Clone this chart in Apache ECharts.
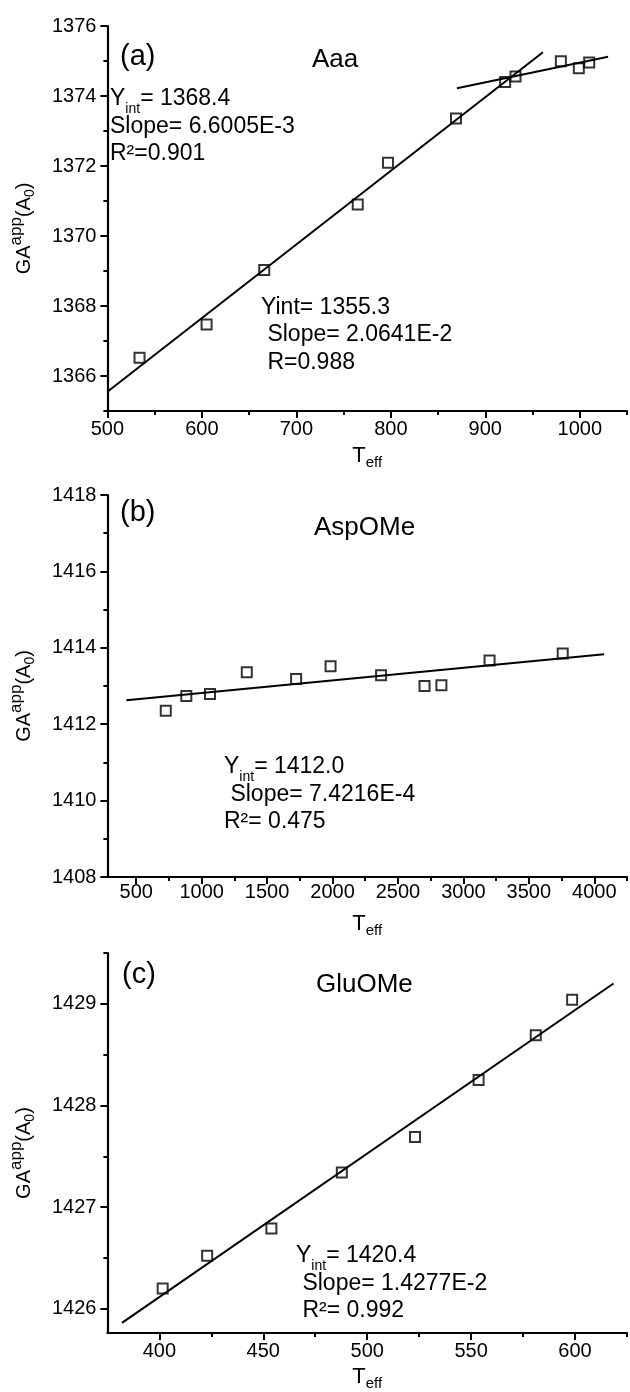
<!DOCTYPE html>
<html>
<head>
<meta charset="utf-8">
<script src="https://cdn.jsdelivr.net/npm/echarts@6/dist/echarts.min.js"></script>
<style>
  html, body { margin: 0; padding: 0; background: #fff; }
  #chart { width: 630px; height: 1392px; }
</style>
</head>
<body>
<div id="chart"></div>
<script>
// (a) Aaa
var aTeff = [534, 605, 666, 765, 797, 869, 921, 932, 980, 999, 1010];
var aGA = [1366.52, 1367.47, 1369.03, 1370.9, 1372.09, 1373.36, 1374.4, 1374.56, 1374.99, 1374.79, 1374.96];
var aFitLowT = [500, 961];
var aFitLowGA = [1365.55, 1375.25];
var aFitHighT = [870, 1030];
var aFitHighGA = [1374.22, 1375.12];
var aXMajor = [500, 600, 700, 800, 900, 1000];
var aXMinor = [550, 650, 750, 850, 950, 1050];
var aYMajor = [1366, 1368, 1370, 1372, 1374, 1376];
var aYMinor = [1365, 1367, 1369, 1371, 1373, 1375];

// (b) AspOMe
var bTeff = [726, 883, 1064, 1345, 1722, 1985, 2371, 2703, 2832, 3200, 3759];
var bGA = [1412.35, 1412.74, 1412.79, 1413.36, 1413.18, 1413.52, 1413.28, 1413.0, 1413.02, 1413.67, 1413.85];
var bFitT = [425, 4075];
var bFitGA = [1412.63, 1413.83];
var bXMajor = [500, 1000, 1500, 2000, 2500, 3000, 3500, 4000];
var bXMinor = [750, 1250, 1750, 2250, 2750, 3250, 3750, 4250];
var bYMajor = [1408, 1410, 1412, 1414, 1416, 1418];
var bYMinor = [1409, 1411, 1413, 1415, 1417];

// (c) GluOMe
var cTeff = [401.6, 423, 453.9, 487.8, 523, 553.6, 581.1, 598.6];
var cGA = [1426.2, 1426.52, 1426.79, 1427.34, 1427.69, 1428.25, 1428.69, 1429.04];
var cFitT = [382, 618.5];
var cFitGA = [1425.86, 1429.2];
var cXMajor = [400, 450, 500, 550, 600];
var cXMinor = [425, 475, 525, 575, 625];
var cYMajor = [1426, 1427, 1428, 1429];
var cYMinor = [1426.5, 1427.5, 1428.5, 1429.5];

var FONT = 'Liberation Sans, Arial, sans-serif';

var chart = echarts.init(document.getElementById('chart'));

function pairs(xs, ys) {
    var out = [];
    for (var i = 0; i < xs.length; i++) out.push([xs[i], ys[i]]);
    return out;
}
function plain(v) { return String(v); }

var grids = [], xAxes = [], yAxes = [], series = [];

function addPanel(p) {
    var g = grids.length;
    grids.push({ left: 103, right: 3, top: p.top, height: p.height, containLabel: false });

    var xMain = xAxes.length;
    xAxes.push({
        type: 'value', gridIndex: g, position: 'bottom', min: p.xMin, max: p.xMax,
        splitLine: { show: false },
        axisLine: { show: true, onZero: false, lineStyle: { color: '#000', width: 2.2 } },
        axisTick: { show: true, length: 7, lineStyle: { color: '#000', width: 2 }, customValues: p.xMajor },
        axisLabel: { customValues: p.xMajor, formatter: plain, color: '#000', fontSize: 20, fontFamily: FONT, margin: p.xLabelMargin },
        name: '{n|T}{s|eff}', nameLocation: 'middle', nameGap: p.xNameGap,
        nameTextStyle: {
            color: '#000', fontFamily: FONT,
            rich: {
                n: { fontSize: 22, lineHeight: 26, fontFamily: FONT, color: '#000' },
                s: { fontSize: 15, lineHeight: 26, fontFamily: FONT, color: '#000', padding: [14, 0, 0, 0] }
            }
        }
    });
    xAxes.push({
        type: 'value', gridIndex: g, position: 'bottom', min: p.xMin, max: p.xMax,
        splitLine: { show: false },
        axisLine: { show: false, onZero: false },
        axisLabel: { show: false },
        axisTick: { show: true, length: 4, lineStyle: { color: '#000', width: 2 }, customValues: p.xMinor }
    });

    var yMain = yAxes.length;
    yAxes.push({
        type: 'value', gridIndex: g, position: 'left', min: p.yMin, max: p.yMax,
        splitLine: { show: false },
        axisLine: { show: true, onZero: false, lineStyle: { color: '#000', width: 2.2 } },
        axisTick: { show: true, length: 7, lineStyle: { color: '#000', width: 2 }, customValues: p.yMajor },
        axisLabel: { customValues: p.yMajor, formatter: plain, color: '#000', fontSize: 20, fontFamily: FONT, margin: 11 },
        name: '{n|GA}{p|app}{n|(A}{b|0}{n|)}', nameLocation: 'middle', nameGap: 48,
        nameTextStyle: {
            color: '#000', fontFamily: FONT, padding: [0, 20, 0, 0],
            rich: {
                n: { fontSize: 20, lineHeight: 26, fontFamily: FONT, color: '#000' },
                p: { fontSize: 17, lineHeight: 26, fontFamily: FONT, color: '#000', padding: [0, 0, 16, 0] },
                b: { fontSize: 14, lineHeight: 26, fontFamily: FONT, color: '#000', padding: [12, 0, 0, 0] }
            }
        }
    });
    yAxes.push({
        type: 'value', gridIndex: g, position: 'left', min: p.yMin, max: p.yMax,
        splitLine: { show: false },
        axisLine: { show: false, onZero: false },
        axisLabel: { show: false },
        axisTick: { show: true, length: 4, lineStyle: { color: '#000', width: 2 }, customValues: p.yMinor }
    });

    p.fits.forEach(function (f) {
        series.push({
            type: 'line', xAxisIndex: xMain, yAxisIndex: yMain,
            data: pairs(f[0], f[1]), showSymbol: false, silent: true, z: 2,
            lineStyle: { color: '#000', width: 2 }
        });
    });
    series.push({
        type: 'scatter', xAxisIndex: xMain, yAxisIndex: yMain,
        data: pairs(p.xs, p.ys), symbol: 'rect', symbolSize: 10, z: 3,
        itemStyle: { color: 'rgba(0,0,0,0)', borderColor: '#000', borderWidth: 2 }
    });
}

addPanel({
    top: 26, height: 385, xMin: 500, xMax: 1050, yMin: 1365, yMax: 1376,
    xMajor: aXMajor, xMinor: aXMinor, yMajor: aYMajor, yMinor: aYMinor,
    xLabelMargin: 8, xNameGap: 32,
    xs: aTeff, ys: aGA, fits: [[aFitLowT, aFitLowGA], [aFitHighT, aFitHighGA]]
});
addPanel({
    top: 495, height: 382, xMin: 280, xMax: 4250, yMin: 1408, yMax: 1418,
    xMajor: bXMajor, xMinor: bXMinor, yMajor: bYMajor, yMinor: bYMinor,
    xLabelMargin: 5, xNameGap: 34,
    xs: bTeff, ys: bGA, fits: [[bFitT, bFitGA]]
});
addPanel({
    top: 953, height: 384, xMin: 375, xMax: 625, yMin: 1425.76, yMax: 1429.5,
    xMajor: cXMajor, xMinor: cXMinor, yMajor: cYMajor, yMinor: cYMinor,
    xLabelMargin: 8, xNameGap: 30,
    xs: cTeff, ys: cGA, fits: [[cFitT, cFitGA]]
});

var annRich = {
    n: { fontSize: 23, lineHeight: 27.5, fontFamily: FONT, color: '#000' },
    s: { fontSize: 14, lineHeight: 27.5, fontFamily: FONT, color: '#000', padding: [20, 0, 0, 0] }
};

function txt(left, top, text, size) {
    return { type: 'text', left: left, top: top, z: 10,
        style: { text: text, fontSize: size, fontFamily: FONT, fill: '#000' } };
}
function ann(left, top, lines) {
    return { type: 'text', left: left, top: top, z: 10,
        style: { text: lines.join('\n'), rich: annRich, fontFamily: FONT, fill: '#000' } };
}

chart.setOption({
    animation: false,
    backgroundColor: '#fff',
    grid: grids,
    xAxis: xAxes,
    yAxis: yAxes,
    series: series,
    graphic: [
        txt(120, 42, '(a)', 29),
        txt(312, 47, 'Aaa', 26),
        ann(110, 82, ['{n|Y}{s|int}{n|= 1368.4}', '{n|Slope= 6.6005E-3}', '{n|R²=0.901}']),
        ann(261, 296, ['{n|Yint= 1355.3}', '{n| Slope= 2.0641E-2}', '{n| R=0.988}']),
        txt(120, 498, '(b)', 29),
        txt(314, 515, 'AspOMe', 26),
        ann(224, 750, ['{n|Y}{s|int}{n|= 1412.0}', '{n| Slope= 7.4216E-4}', '{n|R²= 0.475}']),
        txt(122, 960, '(c)', 29),
        txt(316, 972, 'GluOMe', 26),
        ann(296, 1239, ['{n|Y}{s|int}{n|= 1420.4}', '{n| Slope= 1.4277E-2}', '{n| R²= 0.992}'])
    ]
});
</script>
</body>
</html>
